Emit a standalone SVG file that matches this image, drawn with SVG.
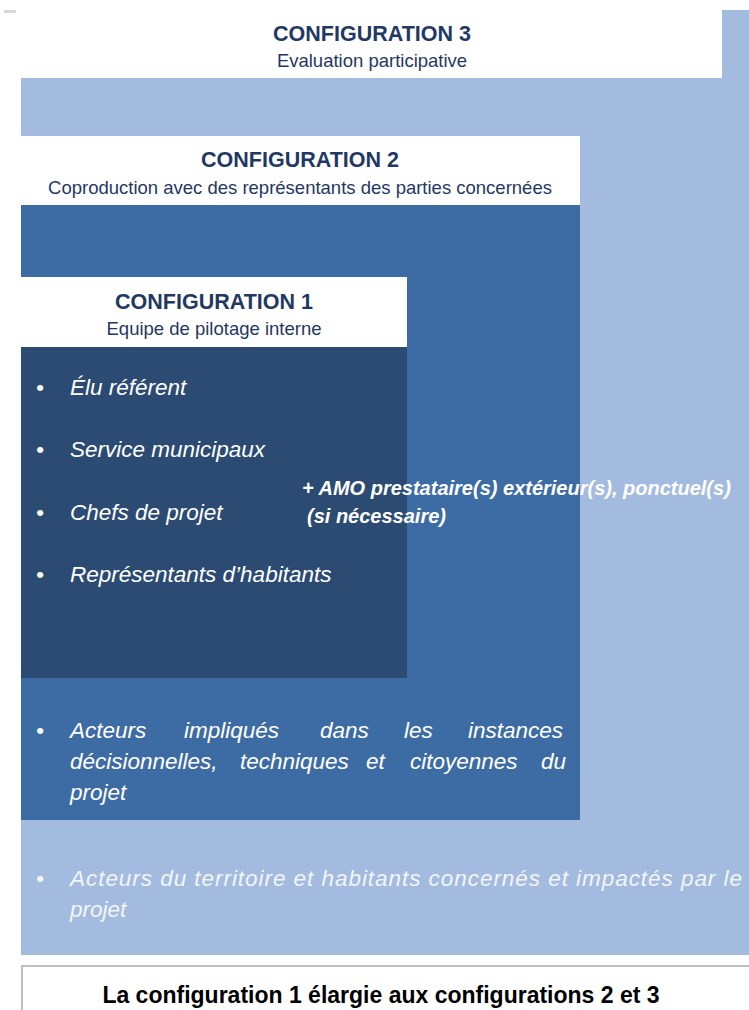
<svg xmlns="http://www.w3.org/2000/svg" width="749" height="1010" viewBox="0 0 749 1010">
<style>
.hd{font-family:"Liberation Sans",Arial,sans-serif;font-weight:bold;font-size:21.5px;fill:#1f3864;text-anchor:middle}
.sub{font-family:"Liberation Sans",Arial,sans-serif;font-size:18.5px;fill:#1f3864;text-anchor:middle}
.it{font-family:"Liberation Sans",Arial,sans-serif;font-style:italic;font-size:22.5px;fill:#ffffff}
.it3{font-family:"Liberation Sans",Arial,sans-serif;font-style:italic;font-size:22.5px;fill:#f2f5fb}
.amo{font-family:"Liberation Sans",Arial,sans-serif;font-style:italic;font-weight:bold;font-size:20px;fill:#ffffff}
.cap{font-family:"Liberation Sans",Arial,sans-serif;font-weight:bold;font-size:23px;fill:#000000;text-anchor:middle}
</style>
<rect width="749" height="1010" fill="#ffffff"/>
<rect x="4" y="10" width="12" height="3" fill="#d8d8d8"/>
<g id="config3">
<rect x="21" y="10" width="728" height="945" fill="#a3bbdf"/>
<rect x="21" y="10" width="701" height="68" fill="#ffffff"/>
<text class="hd" x="372" y="41">CONFIGURATION 3</text>
<text class="sub" x="372" y="67">Evaluation participative</text>
<text class="it3" x="36" y="886">•</text>
<text class="it3" x="70" y="886" textLength="672" lengthAdjust="spacing">Acteurs du territoire et habitants concernés et impactés par le</text>
<text class="it3" x="70" y="917">projet</text>
</g>
<g id="config2">
<rect x="21" y="136" width="559" height="684" fill="#3d6ca4"/>
<rect x="21" y="136" width="559" height="69" fill="#ffffff"/>
<text class="hd" x="300" y="167">CONFIGURATION 2</text>
<text class="sub" x="300" y="194">Coproduction avec des représentants des parties concernées</text>
<text class="it" x="36" y="738">•</text>
<text class="it" y="738"><tspan x="70">Acteurs</tspan><tspan x="184">impliqués</tspan><tspan x="320">dans</tspan><tspan x="404">les</tspan><tspan x="468">instances</tspan></text>
<text class="it" y="769"><tspan x="70">décisionnelles,</tspan><tspan x="240">techniques</tspan><tspan x="366">et</tspan><tspan x="410">citoyennes</tspan><tspan x="541">du</tspan></text>
<text class="it" x="70" y="800">projet</text>
</g>
<g id="config1">
<rect x="21" y="277" width="386" height="401" fill="#2b4b73"/>
<rect x="21" y="277" width="386" height="70" fill="#ffffff"/>
<text class="hd" x="214" y="309">CONFIGURATION 1</text>
<text class="sub" x="214" y="335">Equipe de pilotage interne</text>
<text class="it" x="36" y="395">•</text>
<text class="it" x="70" y="395">Élu référent</text>
<text class="it" x="36" y="457">•</text>
<text class="it" x="70" y="457">Service municipaux</text>
<text class="it" x="36" y="520">•</text>
<text class="it" x="70" y="520">Chefs de projet</text>
<text class="it" x="36" y="582">•</text>
<text class="it" x="70" y="582">Représentants d’habitants</text>
</g>
<g id="amo">
<text class="amo" x="302" y="495">+ AMO prestataire(s) extérieur(s), ponctuel(s)</text>
<text class="amo" x="307" y="523">(si nécessaire)</text>
</g>
<g id="caption">
<rect x="22" y="966" width="730" height="50" fill="#ffffff" stroke="#bfbfbf" stroke-width="2"/>
<text class="cap" x="381" y="1003">La configuration 1 élargie aux configurations 2 et 3</text>
</g>
<g id="connectors"/>
</svg>
